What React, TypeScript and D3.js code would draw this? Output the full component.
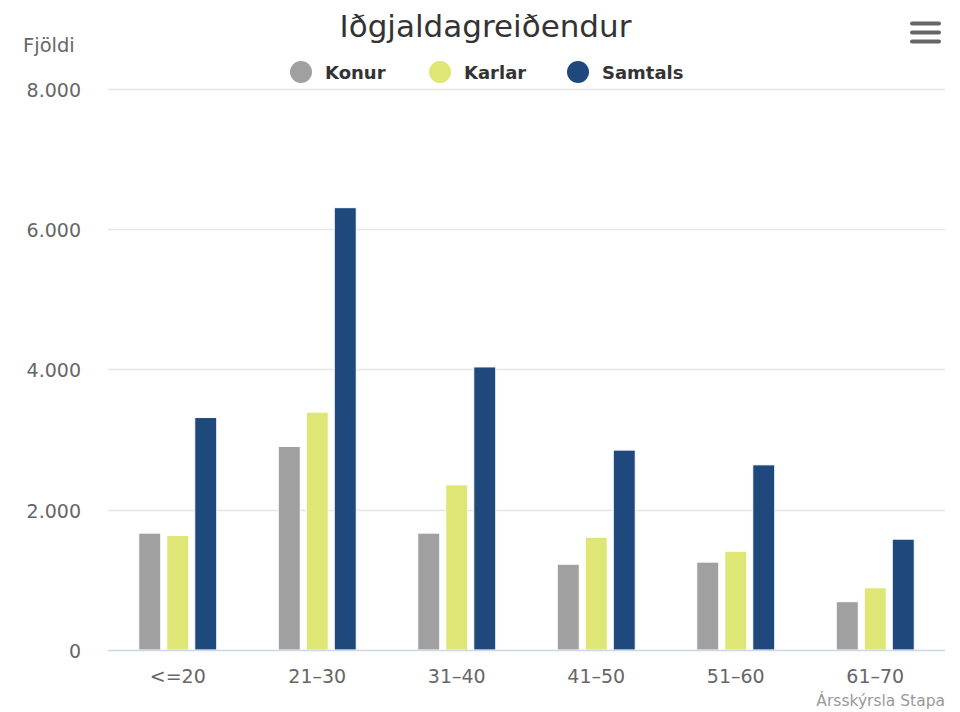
import React from "react";
import * as d3 from "d3";

const categories = ["<=20", "21–30", "31–40", "41–50", "51–60", "61–70"];
const seriesNames = ["Konur", "Karlar", "Samtals"];
const konur = [1665, 2900, 1665, 1222, 1252, 688];
const karlar = [1632, 3388, 2353, 1607, 1407, 887];
const samtals = [3312, 6302, 4033, 2848, 2638, 1579];
const yTicks = [0, 2000, 4000, 6000, 8000];
const seriesColors = ["#A0A0A0", "#DEE776", "#1F497D"];

const W = 960;
const H = 712;
const FONT = "'DejaVu Sans', 'Lucida Grande', sans-serif";

export default function App() {
  const left = 108;
  const right = 945;
  const top = 88.5;
  const bottom = 650;
  const values = [konur, karlar, samtals];

  const x0 = d3.scaleBand<string>().domain(categories).range([left, right]);
  const x1 = d3.scaleBand<string>().domain(seriesNames).range([0, 84]);
  const y = d3.scaleLinear().domain([0, 8000]).range([bottom, top]);
  const fmt = (v: number) => d3.format(",")(v).replace(/,/g, ".");

  const legendX = [301, 440, 578];

  return (
    <svg width={W} height={H} style={{ position: "absolute", left: 0, top: 0, background: "#fff" }}>
      <rect x={0} y={0} width={W} height={H} fill="#fff" />
      {/* gridlines */}
      {yTicks.map((t) =>
        t === 0 ? null : (
          <line key={t} x1={left} x2={right} y1={Math.round(y(t)) + 0.5} y2={Math.round(y(t)) + 0.5} stroke="#e6e6e6" strokeWidth={1.5} />
        )
      )}
      {/* y labels */}
      {yTicks.map((t) => (
        <text key={"l" + t} x={81} y={y(t) + 8} textAnchor="end" fontFamily={FONT} fontSize={19} fill="#666">
          {fmt(t)}
        </text>
      ))}
      <text x={23} y={52} textAnchor="start" fontFamily={FONT} fontSize={19.5} fill="#666">
        Fjöldi
      </text>
      {/* bars */}
      {categories.map((c, i) => {
        const gx = (x0(c) as number) + x0.bandwidth() / 2 - 42;
        return seriesNames.map((s, si) => {
          const v = values[si][i];
          const bx = gx + (x1(s) as number) + 3;
          return (
            <rect
              key={c + s}
              x={bx}
              y={y(v)}
              width={22}
              height={bottom - y(v)}
              fill={seriesColors[si]}
              stroke="#fff"
              strokeWidth={1}
            />
          );
        });
      })}
      {/* x axis */}
      <line x1={left} x2={right} y1={650.5} y2={650.5} stroke="#ccd6eb" strokeWidth={1.5} />
      {categories.map((c) => (
        <text
          key={"x" + c}
          x={(x0(c) as number) + x0.bandwidth() / 2}
          y={683}
          textAnchor="middle"
          fontFamily={FONT}
          fontSize={19}
          fill="#666"
        >
          {c}
        </text>
      ))}
      {/* title */}
      <text x={485.5} y={37} textAnchor="middle" fontFamily={FONT} fontSize={31} fill="#333">
        Iðgjaldagreiðendur
      </text>
      {/* legend */}
      {seriesNames.map((s, i) => (
        <g key={"lg" + s}>
          <circle cx={legendX[i]} cy={72} r={11} fill={seriesColors[i]} />
          <text x={legendX[i] + 24} y={79} fontFamily={FONT} fontSize={18} fontWeight="bold" fill="#333">
            {s}
          </text>
        </g>
      ))}
      {/* menu icon */}
      {[23.5, 32.5, 41.5].map((yy) => (
        <line key={yy} x1={912} x2={939} y1={yy} y2={yy} stroke="#666" strokeWidth={4} strokeLinecap="round" />
      ))}
      {/* credits */}
      <text x={945} y={706} textAnchor="end" fontFamily={FONT} fontSize={15.5} fill="#999">
        Ársskýrsla Stapa
      </text>
    </svg>
  );
}
